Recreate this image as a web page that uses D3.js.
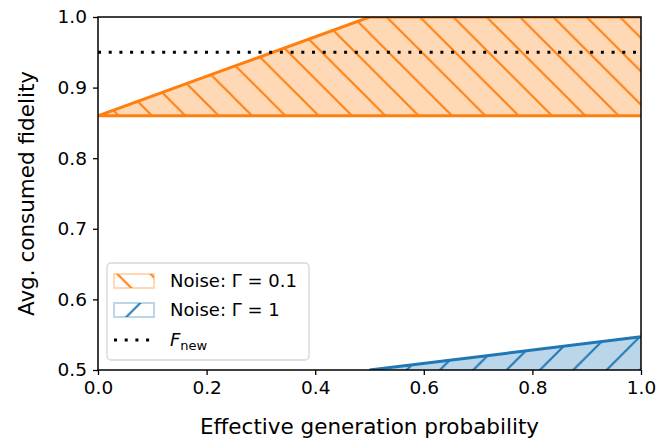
<!DOCTYPE html>
<html>
<head>
<meta charset="utf-8">
<script src="https://cdn.jsdelivr.net/npm/d3@7"></script>
<style>
  body { margin: 0; background: #fff; }
  text { font-family: "DejaVu Sans", sans-serif; fill: #000; }
</style>
</head>
<body>
<div id="chart"></div>
<script>
// data
const probs = [0, 0.25, 0.5, 0.75, 1.0];
const lowNoiseLower = [0.86, 0.86, 0.86, 0.86, 0.86];
const lowNoiseUpper = [0.86, 0.93, 1.0, 1.0, 1.0];
const highNoiseLower = [0.5, 0.5, 0.5, 0.5, 0.5];
const highNoiseUpper = [0.5, 0.5, 0.5, 0.5235, 0.547];
const fNew = 0.95;
const xTicks = [0, 0.2, 0.4, 0.6, 0.8, 1.0];
const yTicks = [0.5, 0.6, 0.7, 0.8, 0.9, 1.0];
const legendLabels = ["Noise: \u0393 = 0.1", "Noise: \u0393 = 1"];

const width = 670, height = 444;
const margin = { top: 17, right: 29, bottom: 74, left: 98 };
const orange = "#ff7f0e", blue = "#1f77b4";

const svg = d3.select("#chart").append("svg")
    .attr("width", width)
    .attr("height", height);

const x = d3.scaleLinear().domain([0, 1]).range([margin.left, width - margin.right]);
const y = d3.scaleLinear().domain([0.5, 1.0]).range([height - margin.bottom, margin.top]);

const defs = svg.append("defs");
const s = 33.33;

// hatch patterns (user space, so lines line up across the plot)
const hatch = (id, color, dir, shift) => {
    const p = defs.append("pattern")
        .attr("id", id)
        .attr("patternUnits", "userSpaceOnUse")
        .attr("width", s).attr("height", s)
        .attr("patternTransform", `translate(${shift},0)`);
    const d = dir === "back"
        ? `M-2,-2 L${s + 2},${s + 2} M${s - 2},-2 L${s + 2},2 M-2,${s - 2} L2,${s + 2}`
        : `M-2,${s + 2} L${s + 2},-2 M-2,2 L2,-2 M${s - 2},${s + 2} L${s + 2},${s - 2}`;
    p.append("path").attr("d", d).attr("stroke", color).attr("stroke-width", 2).attr("fill", "none");
};
hatch("hatch-orange", orange, "back", 3);
hatch("hatch-blue", blue, "fwd", 10);
hatch("hatch-orange-leg", orange, "back", 10);

defs.append("clipPath").attr("id", "plot-clip")
    .append("rect")
    .attr("x", x(0)).attr("y", y(1))
    .attr("width", x(1) - x(0)).attr("height", y(0.5) - y(1));

const plot = svg.append("g").attr("clip-path", "url(#plot-clip)");

const bands = [
    { lower: lowNoiseLower, upper: lowNoiseUpper, color: orange, hatch: "hatch-orange", edgeLower: true },
    { lower: highNoiseLower, upper: highNoiseUpper, color: blue, hatch: "hatch-blue", edgeLower: false }
];

const area = d3.area()
    .x(d => x(d.p))
    .y0(d => y(d.lo))
    .y1(d => y(d.hi));
const lineGen = d3.line().x(d => x(d.p)).y(d => y(d.v));

bands.forEach(b => {
    const pts = probs.map((p, i) => ({ p, lo: b.lower[i], hi: b.upper[i] }));
    plot.append("path")
        .attr("d", area(pts))
        .attr("fill", b.color)
        .attr("fill-opacity", 0.3);
    plot.append("path")
        .attr("d", area(pts))
        .attr("fill", `url(#${b.hatch})`);
    const edges = [b.upper];
    if (b.edgeLower) edges.push(b.lower);
    edges.forEach(vals => {
        // skip the part that lies on the bottom of the axes
        let pts2 = probs.map((p, i) => ({ p, v: vals[i] }));
        const firstUp = pts2.findIndex((d, i) => i + 1 < pts2.length && pts2[i + 1].v > 0.5);
        pts2 = pts2.filter((d, i) => d.v > 0.5 || i >= firstUp);
        plot.append("path")
            .attr("d", lineGen(pts2))
            .attr("fill", "none")
            .attr("stroke", b.color)
            .attr("stroke-width", 3);
    });
});

// F_new reference line
plot.append("line")
    .attr("x1", x(0)).attr("x2", x(1))
    .attr("y1", y(fNew)).attr("y2", y(fNew))
    .attr("stroke", "#000")
    .attr("stroke-width", 3)
    .attr("stroke-dasharray", "3,7.7");

// axes
const xAxis = svg.append("g")
    .attr("transform", `translate(0,${y(0.5)})`)
    .call(d3.axisBottom(x).tickValues(xTicks).tickFormat(d3.format(".1f")).tickSize(5).tickPadding(6));
const yAxis = svg.append("g")
    .attr("transform", `translate(${x(0)},0)`)
    .call(d3.axisLeft(y).tickValues(yTicks).tickFormat(d3.format(".1f")).tickSize(5).tickPadding(6));

[xAxis, yAxis].forEach(a => {
    a.select(".domain").remove();
    a.selectAll(".tick line").attr("stroke", "#000").attr("stroke-width", 1.3);
    a.selectAll(".tick text")
        .style("font-family", "DejaVu Sans, sans-serif")
        .style("font-size", "18.5px")
        .attr("fill", "#000");
});

svg.append("rect")
    .attr("x", x(0)).attr("y", y(1))
    .attr("width", x(1) - x(0)).attr("height", y(0.5) - y(1))
    .attr("fill", "none")
    .attr("stroke", "#000")
    .attr("stroke-width", 1.5);

svg.append("text")
    .attr("x", (x(0) + x(1)) / 2)
    .attr("y", 434)
    .attr("text-anchor", "middle")
    .style("font-size", "21.5px")
    .text("Effective generation probability");

svg.append("text")
    .attr("transform", `translate(34,${(y(0.5) + y(1)) / 2}) rotate(-90)`)
    .attr("text-anchor", "middle")
    .style("font-size", "21.5px")
    .text("Avg. consumed fidelity");

// legend
const leg = svg.append("g");
leg.append("rect")
    .attr("x", 107).attr("y", 263)
    .attr("width", 202).attr("height", 97)
    .attr("rx", 4)
    .attr("fill", "#fff").attr("fill-opacity", 0.8)
    .attr("stroke", "#d6d6d6").attr("stroke-width", 1.3);

const legRows = [281, 310];
[["hatch-orange-leg", orange], ["hatch-blue", blue]].forEach(([h, c], i) => {
    const cy = legRows[i];
    leg.append("rect")
        .attr("x", 114).attr("y", cy - 7)
        .attr("width", 40).attr("height", 14)
        .attr("fill", `url(#${h})`)
        .attr("stroke", c).attr("stroke-opacity", 0.3).attr("stroke-width", 2);
    leg.append("text")
        .attr("x", 170).attr("y", cy)
        .attr("dy", "0.35em")
        .style("font-size", "18px")
        .text(legendLabels[i]);
});

leg.append("line")
    .attr("x1", 114).attr("x2", 156)
    .attr("y1", 340).attr("y2", 340)
    .attr("stroke", "#000").attr("stroke-width", 3)
    .attr("stroke-dasharray", "3,7.7");

const fLab = leg.append("text")
    .attr("x", 170).attr("y", 340)
    .attr("dy", "0.35em")
    .style("font-size", "18px");
fLab.append("tspan").style("font-style", "italic").text("F");
fLab.append("tspan").attr("dy", "4").style("font-size", "13px").text("new");
</script>
</body>
</html>
